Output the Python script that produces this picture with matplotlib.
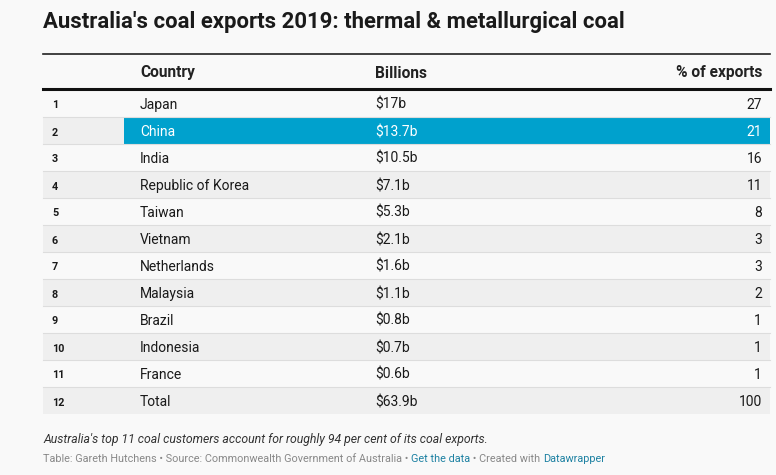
import matplotlib.pyplot as plt
from matplotlib.patches import Rectangle

plt.rcParams['font.family'] = ['Roboto', 'DejaVu Sans']

title = "Australia's coal exports 2019: thermal & metallurgical coal"
columns = ["Country", "Billions", "% of exports"]
ranks = [1, 2, 3, 4, 5, 6, 7, 8, 9, 10, 11, 12]
countries = ["Japan", "China", "India", "Republic of Korea", "Taiwan", "Vietnam",
             "Netherlands", "Malaysia", "Brazil", "Indonesia", "France", "Total"]
billions = [17, 13.7, 10.5, 7.1, 5.3, 2.1, 1.6, 1.1, 0.8, 0.7, 0.6, 63.9]
share = [27, 21, 16, 11, 8, 3, 3, 2, 1, 1, 1, 100]
highlight = "China"
note = "Australia's top 11 coal customers account for roughly 94 per cent of its coal exports."
source_parts = [("Table: Gareth Hutchens \u2022 Source: Commonwealth Government of Australia \u2022 ", "#888888"),
                ("Get the data", "#1d81a2"),
                (" \u2022 Created with ", "#888888"),
                ("Datawrapper", "#1d81a2")]

W, H = 776, 475
bg = "#f9f9f9"
fig = plt.figure(figsize=(W / 100, H / 100), dpi=100, facecolor=bg)
ax = fig.add_axes([0, 0, 1, 1])
ax.set_xlim(0, W)
ax.set_ylim(H, 0)
ax.axis("off")

def px(p):
    return p * 0.72

left, right = 43, 770
x_rank, x_country, x_bill, x_pct = 52, 140, 375, 762
top_row = 90
row_h = 27

ax.text(left, 22, title, fontsize=px(22.2), fontweight="bold", color="#1a1a1a", va="center")

# header
ax.plot([left, right], [54, 54], color="#222222", lw=1.2)
for xx, lab, ha in zip([x_country, x_bill, x_pct], columns, ["left", "left", "right"]):
    ax.text(xx, 77.5, lab, fontsize=px(15.5), fontweight="bold", va="baseline", ha=ha, color="#222222")
ax.plot([left, right], [89, 89], color="#111111", lw=2.2)

for i, (r, c, b, s) in enumerate(zip(ranks, countries, billions, share)):
    y0 = top_row + i * row_h
    yb = y0 + 19
    if i % 2 == 1:
        ax.add_patch(Rectangle((left, y0), right - left, row_h, color="#efefef", lw=0, zorder=0))
    tc = "#1a1a1a"
    if c == highlight:
        ax.add_patch(Rectangle((124, y0), right - 124, row_h, color="#00a1cd", lw=0, zorder=1))
        tc = "white"
    if i < len(ranks) - 1:
        ax.plot([left, right], [y0 + row_h, y0 + row_h], color="#dddddd", lw=0.8, zorder=2)
    ax.text(x_rank, yb - 0.5, str(r), fontsize=px(10.8), fontweight="bold", va="baseline", color="#1a1a1a", zorder=3)
    ax.text(x_country, yb, c, fontsize=px(13.9), va="baseline", color=tc, zorder=3)
    ax.text(x_bill, yb, f"${b:g}b", fontsize=px(13.9), va="baseline", color=tc, zorder=3)
    ax.text(x_pct, yb, str(s), fontsize=px(13.9), va="baseline", ha="right", color=tc, zorder=3)

ax.text(left, 440, note, fontsize=px(12.2), style="italic", va="center", color="#333333")

# source line, pieces chained left to right
fig.canvas.draw()
renderer = fig.canvas.get_renderer()
x = left
for txt, col in source_parts:
    t = ax.text(x, 459, txt, fontsize=px(10.9), va="center", color=col)
    bb = t.get_window_extent(renderer=renderer)
    x += bb.width

fig.savefig("out.png", dpi=100, facecolor=bg)
